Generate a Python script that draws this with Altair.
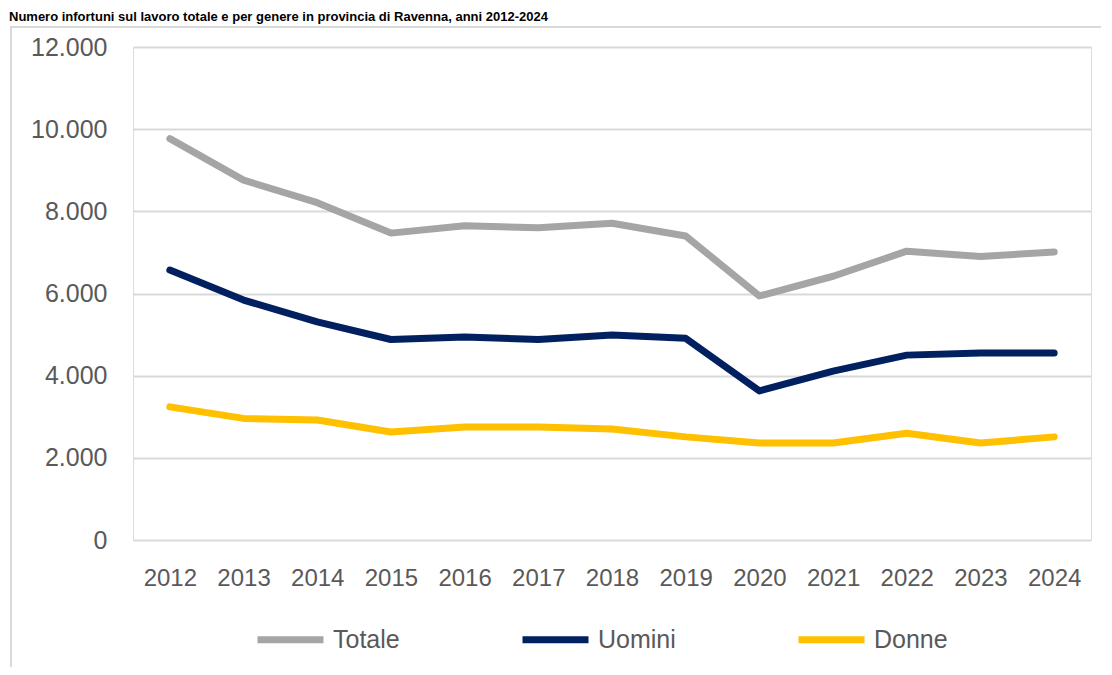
import altair as alt
import pandas as pd

anni = [str(y) for y in range(2012, 2025)]
totale = [9770, 8760, 8210, 7470, 7650, 7600, 7710, 7400, 5940, 6420, 7030, 6900, 7010]
uomini = [6570, 5840, 5310, 4880, 4940, 4880, 4990, 4910, 3630, 4110, 4500, 4550, 4550]
donne = [3240, 2960, 2920, 2630, 2750, 2750, 2700, 2510, 2360, 2360, 2600, 2360, 2510]
serie = ["Totale", "Uomini", "Donne"]
colori = ["#A5A5A5", "#002060", "#FFC000"]
y_ticks = [0, 2000, 4000, 6000, 8000, 10000, 12000]
titolo = "Numero infortuni sul lavoro totale e per genere in provincia di Ravenna, anni 2012-2024"

rows = []
for nome, valori in zip(serie, [totale, uomini, donne]):
    for a, v in zip(anni, valori):
        rows.append({"Anno": a, "Serie": nome, "Valore": v})
df = pd.DataFrame(rows)

FONT = "Liberation Sans"
GREY_TXT = "#595959"

lines = alt.Chart(df).mark_line(strokeWidth=7, strokeCap="round", strokeJoin="round").encode(
    x=alt.X("Anno:O", scale=alt.Scale(type="point", padding=0.5),
            axis=alt.Axis(title=None, labelAngle=0, domain=False, ticks=False,
                          labelPadding=26, labelFontSize=24, labelColor=GREY_TXT,
                          labelFont=FONT, grid=False)),
    y=alt.Y("Valore:Q", scale=alt.Scale(domain=[0, 12000]),
            axis=alt.Axis(title=None, values=y_ticks, domain=False, ticks=False,
                          labelPadding=26, labelFontSize=25, labelColor=GREY_TXT,
                          labelFont=FONT, gridColor="#D9D9D9", gridWidth=2,
                          labelExpr="replace(format(datum.value, ',d'), ',', '.')")),
    color=alt.Color("Serie:N", sort=serie,
                    scale=alt.Scale(domain=serie, range=colori),
                    legend=alt.Legend(title=None, orient="none", direction="horizontal",
                                      legendX=121, legendY=556,
                                      symbolType="stroke", symbolSize=4356,
                                      symbolStrokeWidth=7, labelFontSize=25,
                                      labelFont=FONT, labelColor=GREY_TXT,
                                      labelOffset=6, columnPadding=108)),
    detail="Serie:N",
)

frame = alt.Chart(pd.DataFrame({"k": [0]})).mark_rect(
    fill=None, stroke="#D9D9D9", strokeWidth=2
).encode(
    x=alt.value(-122), x2=alt.value(1000),
    y=alt.value(-20), y2=alt.value(700),
)

title = alt.Chart(pd.DataFrame({"t": [titolo]})).mark_text(
    align="left", baseline="alphabetic", fontSize=13, fontWeight="bold",
    font=FONT, color="#000000"
).encode(
    text="t:N",
    x=alt.value(-124),
    y=alt.value(-26),
)

chart = alt.layer(frame, lines, title).properties(
    width=958, height=493,
    autosize=alt.AutoSizeParams(type="none"),
    padding={"left": 125, "top": 39, "right": 10, "bottom": 127},
).configure_view(stroke=None).configure(background="white")

chart.save("out.html", embed_options={"renderer": "svg", "actions": False})
